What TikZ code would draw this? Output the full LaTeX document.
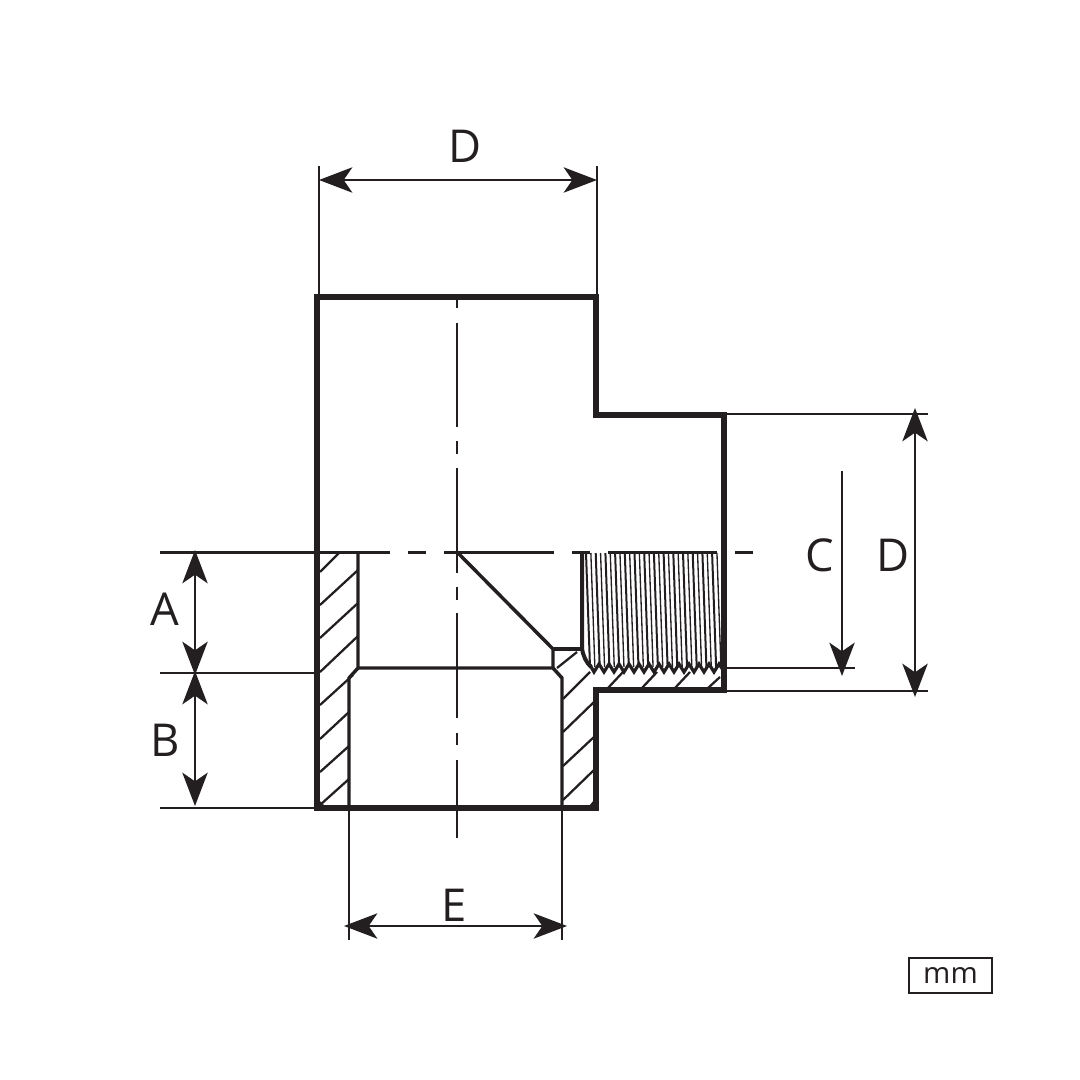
\documentclass[tikz,border=0pt]{standalone}
\usepackage{fontspec}
\setmainfont{Open Sans}
\usetikzlibrary{arrows.meta}

\tikzset{
  body/.style={line width=4pt, line join=miter, draw=ink},
  wall/.style={line width=2.6pt, draw=ink},
  hatch/.style={line width=1.7pt, draw=ink},
  axis/.style={line width=1.7pt, draw=ink},
  extline/.style={line width=1.4pt, draw=ink},
  dimline/.style={line width=1.5pt, draw=ink, {Stealth[length=25pt, width=19pt, inset=6.5pt]}-{Stealth[length=25pt, width=19pt, inset=6.5pt]}},
  dimdown/.style={line width=1.5pt, draw=ink, -{Stealth[length=25pt, width=19pt, inset=6.5pt]}},
  dimlabel/.style={text=ink, font=\fontsize{34}{34}\selectfont, inner sep=0pt},
}
\definecolor{ink}{HTML}{231F20}

\begin{document}
\begin{tikzpicture}[x=0.75pt, y=-0.75pt]
  \useasboundingbox (0,0) rectangle (1080,1080);

  % extension lines
  \coordinate (dtl) at (319,166);
  \coordinate (dbl) at (319,297);
  \coordinate (dtr) at (597,166);
  \coordinate (dbr) at (597,297);
  \draw[extline] (dtl) -- (dbl);
  \draw[extline] (dtr) -- (dbr);
  \coordinate (a1) at (160,673);
  \coordinate (a2) at (160,808);
  \coordinate (a3) at (317,673);
  \coordinate (a4) at (317,808);
  \draw[extline] (a1) -- (a3);
  \draw[extline] (a2) -- (a4);
  \coordinate (r0) at (724,414);
  \coordinate (r1) at (928,414);
  \coordinate (r2) at (724,691);
  \coordinate (r3) at (928,691);
  \coordinate (r4) at (724,668);
  \coordinate (r5) at (855,668);
  \draw[extline] (r0) -- (r1);
  \draw[extline] (r2) -- (r3);
  \draw[extline] (r4) -- (r5);
  \coordinate (e0) at (349,808);
  \coordinate (e1) at (349,940);
  \coordinate (e2) at (562,808);
  \coordinate (e3) at (562,940);
  \draw[extline] (e0) -- (e1);
  \draw[extline] (e2) -- (e3);

  % centre lines
  \foreach \ya/\yb in {298/308, 323/427, 441/454, 468/573, 587/600, 613/718, 733/745, 760/838}
    \draw[axis] (457,\ya) -- (457,\yb);
  \foreach \xa/\xb in {160/390, 408/426, 444/554, 572/590, 608/717, 735/753}
    \draw[axis] (\xa,552.5) -- (\xb,552.5);

  % hatching, left wall
  \draw[hatch] (320,572) -- (339,553);
  \foreach \ya/\yb in {605/570, 638/603, 672/636}
    \draw[hatch] (320,\ya) -- (358,\yb);
  \draw[hatch] (320,705) -- (353,675);
  \foreach \ya/\yb in {739/712, 772/746, 805/779}
    \draw[hatch] (320,\ya) -- (349,\yb);

  % hatching, right wall
  \draw[hatch] (557,668) -- (577,652);
  \draw[hatch] (563,699) -- (590,672);
  \foreach \ya/\yb in {732/702, 766/737, 800/770}
    \draw[hatch] (563,\ya) -- (594,\yb);
  \foreach \xa/\xb/\yb in {608/623/672, 642/657/672, 675/690/672, 708/720/677}
    \draw[hatch] (\xa,688) -- (\xb,\yb);

  % bore
  \draw[wall] (358,552) -- (358,668) -- (349,678) -- (349,808);
  \draw[wall] (358,668) -- (553,668) -- (562,678) -- (562,808);
  \draw[wall] (457,552) -- (553,649) -- (553,668);
  \draw[wall] (553,649) -- (581,649);

  % thread
  \foreach \i in {0,...,27}
    \draw[line width={mod(\i,2)==0 ? 1.5pt : 1pt}, draw=ink] ({586+4.85*\i},553) -- ({590+4.85*\i},667);
  \draw[line width=3pt, draw=ink] (582,552) -- (582,648) .. controls (583,656) and (586,662) .. (591,667);
  \draw[line width=2.4pt, draw=ink, line join=miter] (590,665)
    \foreach \i in {0,...,12} { -- ({594+10*\i},672) -- ({599+10*\i},664) } -- (723,670);

  % outline
  \draw[body] (317,297) -- (596,297) -- (596,415) -- (724,415) -- (724,690)
    -- (596,690) -- (596,808) -- (317,808) -- cycle;
  \fill[ink] (589,806) -- (594,800) -- (594,806) -- cycle;
  \fill[ink] (319,806) -- (319,800) -- (325,806) -- cycle;

  % dimensions
  \coordinate (da) at (319,180);
  \coordinate (db) at (597,180);
  \draw[dimline] (da) -- (db);
  \coordinate (aa) at (195,550);
  \coordinate (ab) at (195,675);
  \draw[dimline] (aa) -- (ab);
  \coordinate (ba) at (195,671);
  \coordinate (bb) at (195,806);
  \draw[dimline] (ba) -- (bb);
  \coordinate (ca) at (842,471);
  \coordinate (cb) at (842,676);
  \draw[dimdown] (ca) -- (cb);
  \coordinate (ra) at (915,408);
  \coordinate (rb) at (915,697);
  \draw[dimline] (ra) -- (rb);
  \coordinate (ea) at (344,926);
  \coordinate (eb) at (567,926);
  \draw[dimline] (ea) -- (eb);

  \node[dimlabel] (labd) at (465,146) {D};
  \node[dimlabel] (laba) at (165,609) {A};
  \node[dimlabel] (labb) at (165,740) {B};
  \node[dimlabel] (labc) at (820,555) {C};
  \node[dimlabel] (labr) at (893,555) {D};
  \node[dimlabel] (labe) at (454,905) {E};

  \node[draw=ink, line width=1.1pt, minimum width=62pt, minimum height=26pt, inner sep=0pt, text=ink,
    font=\fontsize{22}{22}\selectfont] (unit) at (950.5,975.5) {mm};
\end{tikzpicture}
\end{document}
